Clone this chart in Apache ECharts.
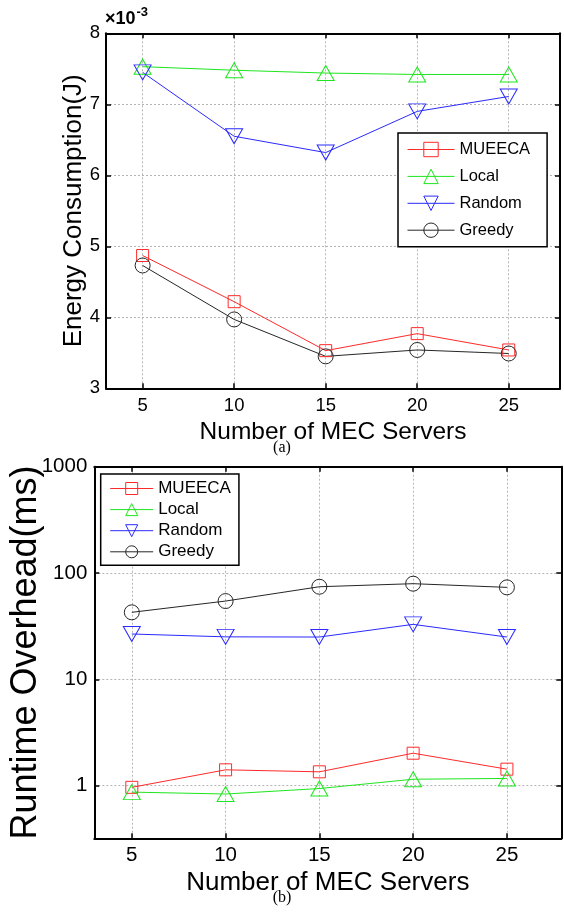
<!DOCTYPE html>
<html><head><meta charset="utf-8">
<script src="https://cdn.jsdelivr.net/npm/echarts@6/dist/echarts.min.js"></script>
<style>html,body{margin:0;padding:0;background:#fff}#c{width:564px;height:914px}</style>
</head><body><div id="c"></div>
<script>
// ---- data ----
const servers = [5, 10, 15, 20, 25];
const xTicks = [5, 10, 15, 20, 25];
const seriesNames = ['MUEECA', 'Local', 'Random', 'Greedy'];
// Energy consumption (x10^-3 J)
const energyMUEECA = [4.87, 4.22, 3.53, 3.77, 3.54];
const energyLocal  = [7.53, 7.48, 7.44, 7.42, 7.42];
const energyRandom = [7.45, 6.55, 6.32, 6.90, 7.11];
const energyGreedy = [4.73, 3.97, 3.45, 3.54, 3.49];
// Runtime overhead (ms)
const runtimeMUEECA = [0.965, 1.41, 1.35, 2.02, 1.43];
const runtimeLocal  = [0.87, 0.835, 0.94, 1.15, 1.17];
const runtimeRandom = [26.7, 25.1, 25.0, 32.9, 25.0];
const runtimeGreedy = [42.7, 54.5, 74.3, 79.4, 73.3];
const energyTicks = [3, 4, 5, 6, 7, 8];
const runtimeTicks = [1, 10, 100, 1000];

// ---- styling ----
const FONT = '"Liberation Sans", Arial, Helvetica, sans-serif';
const styles = {
  MUEECA: { color: '#ff2a2a', symbol: 'rect', size: 12, rotate: 0 },
  Local:  { color: '#1ee61e', symbol: 'triangle', size: [17, 15], rotate: 0 },
  Random: { color: '#2a2aff', symbol: 'triangle', size: [17, 15], rotate: 180 },
  Greedy: { color: '#262626', symbol: 'circle', size: 15, rotate: 0 }
};

function mk(name, data, idx) {
  const s = styles[name];
  return {
    name: name, type: 'line', xAxisIndex: idx * 2, yAxisIndex: idx * 2,
    data: servers.map((x, i) => [x, data[i]]),
    symbol: s.symbol, symbolSize: s.size, symbolRotate: s.rotate,
    lineStyle: { color: s.color, width: 1 },
    itemStyle: { color: 'rgba(0,0,0,0)', borderColor: s.color, borderWidth: 1 },
    emphasis: { disabled: true }, silent: true
  };
}

function legendData() {
  return seriesNames.map(n => ({
    name: n,
    itemStyle: { color: 'rgba(0,0,0,0)', borderColor: styles[n].color, borderWidth: 1 },
    lineStyle: { color: styles[n].color, width: 1 }
  }));
}

const axisLineS = { show: true, onZero: false, lineStyle: { color: '#000', width: 2 } };
const gridLineS = { show: true, lineStyle: { color: '#b4b4b4', width: 1, type: [2, 2] } };

function xAxes(gi, max, fs, nameFs, nameGap, labMargin) {
  return [
    { gridIndex: gi, type: 'value', min: 3, max: max, position: 'bottom',
      axisLine: axisLineS,
      axisTick: { inside: true, length: 5, customValues: xTicks, lineStyle: { color: '#000', width: 1.5 } },
      axisLabel: { customValues: xTicks, fontSize: fs, color: '#000', fontFamily: FONT, margin: labMargin },
      splitLine: gridLineS,
      name: 'Number of MEC Servers', nameLocation: 'middle', nameGap: nameGap,
      nameTextStyle: { fontSize: nameFs, color: '#000', fontFamily: FONT } },
    { gridIndex: gi, type: 'value', min: 3, max: max, position: 'top',
      axisLine: axisLineS,
      axisTick: { inside: true, length: 5, customValues: xTicks, lineStyle: { color: '#000', width: 1.5 } },
      axisLabel: { show: false }, splitLine: { show: false } }
  ];
}

const option = {
  animation: false,
  backgroundColor: '#fff',
  textStyle: { fontFamily: FONT },
  title: [
    { text: '{n|×10}{s|-3}', left: 105, top: 6, padding: 0,
      textStyle: { rich: {
        n: { fontSize: 18, fontFamily: FONT, color: '#000', verticalAlign: 'bottom', lineHeight: 20 },
        s: { fontSize: 13, fontFamily: FONT, color: '#000', verticalAlign: 'bottom', padding: [0, 0, 9, 1] }
      } } },
    { text: '(a)', left: 'center', top: 440, padding: 0,
      textStyle: { fontFamily: '"Liberation Serif", "Times New Roman", serif', fontSize: 16, fontWeight: 'normal', color: '#000' } },
    { text: '(b)', left: 'center', top: 890, padding: 0,
      textStyle: { fontFamily: '"Liberation Serif", "Times New Roman", serif', fontSize: 16, fontWeight: 'normal', color: '#000' } }
  ],
  grid: [
    { left: 106, top: 33.3, width: 454, height: 355, outerBoundsMode: 'none', containLabel: false },
    { left: 94.3, top: 466.7, width: 467, height: 371.6, outerBoundsMode: 'none', containLabel: false }
  ],
  legend: [
    { data: legendData(), orient: 'vertical', left: 398, top: 133,
      itemWidth: 47, itemHeight: 18, itemGap: 9.9, padding: [8, 17, 8, 9],
      borderColor: '#000', borderWidth: 1.5, backgroundColor: '#fff',
      textStyle: { fontSize: 16.5, color: '#000', fontFamily: FONT },
      selectedMode: false, z: 10 },
    { data: legendData(), orient: 'vertical', left: 100.7, top: 474,
      itemWidth: 43, itemHeight: 15, itemGap: 4.1, padding: [6, 8, 5, 9],
      borderColor: '#000', borderWidth: 1.5, backgroundColor: '#fff',
      textStyle: { fontSize: 17, color: '#000', fontFamily: FONT },
      selectedMode: false, z: 10 }
  ],
  xAxis: [].concat(xAxes(0, 27.8, 18.5, 24.5, 31, 8), xAxes(1, 27.9, 20.5, 26, 32, 7)),
  yAxis: [
    { gridIndex: 0, type: 'value', min: energyTicks[0], max: energyTicks[energyTicks.length - 1], interval: 1,
      axisLine: axisLineS,
      axisTick: { inside: true, length: 5, lineStyle: { color: '#000', width: 1.5 } },
      axisLabel: { fontSize: 18.5, color: '#000', fontFamily: FONT, margin: 6 },
      splitLine: gridLineS,
      name: 'Energy Consumption(J)', nameLocation: 'middle', nameGap: 19, nameMoveOverlap: false,
      nameTextStyle: { fontSize: 26, color: '#000', fontFamily: FONT } },
    { gridIndex: 0, type: 'value', position: 'right', min: energyTicks[0], max: energyTicks[energyTicks.length - 1], interval: 1,
      axisLine: axisLineS,
      axisTick: { inside: true, length: 5, lineStyle: { color: '#000', width: 1.5 } },
      axisLabel: { show: false }, splitLine: { show: false } },
    { gridIndex: 1, type: 'log', logBase: 10, min: 0.32, max: runtimeTicks[runtimeTicks.length - 1],
      axisLine: axisLineS,
      axisTick: { inside: true, length: 5, customValues: runtimeTicks, lineStyle: { color: '#000', width: 1.5 } },
      axisLabel: { customValues: runtimeTicks, fontSize: 20.5, color: '#000', fontFamily: FONT, margin: 7,
        formatter: v => String(Math.round(v)) },
      splitLine: gridLineS,
      name: 'Runtime Overhead(ms)', nameLocation: 'middle', nameGap: 50, nameMoveOverlap: false,
      nameTextStyle: { fontSize: 36, color: '#000', fontFamily: FONT } },
    { gridIndex: 1, type: 'log', logBase: 10, position: 'right', min: 0.32, max: runtimeTicks[runtimeTicks.length - 1],
      axisLine: axisLineS,
      axisTick: { inside: true, length: 5, customValues: runtimeTicks, lineStyle: { color: '#000', width: 1.5 } },
      axisLabel: { show: false }, splitLine: { show: false } }
  ],
  series: [
    mk('MUEECA', energyMUEECA, 0), mk('Local', energyLocal, 0), mk('Random', energyRandom, 0), mk('Greedy', energyGreedy, 0),
    mk('MUEECA', runtimeMUEECA, 1), mk('Local', runtimeLocal, 1), mk('Random', runtimeRandom, 1), mk('Greedy', runtimeGreedy, 1)
  ]
};
const chart = echarts.init(document.getElementById('c'), null, { renderer: 'canvas' });
chart.setOption(option);
</script>
</body></html>
